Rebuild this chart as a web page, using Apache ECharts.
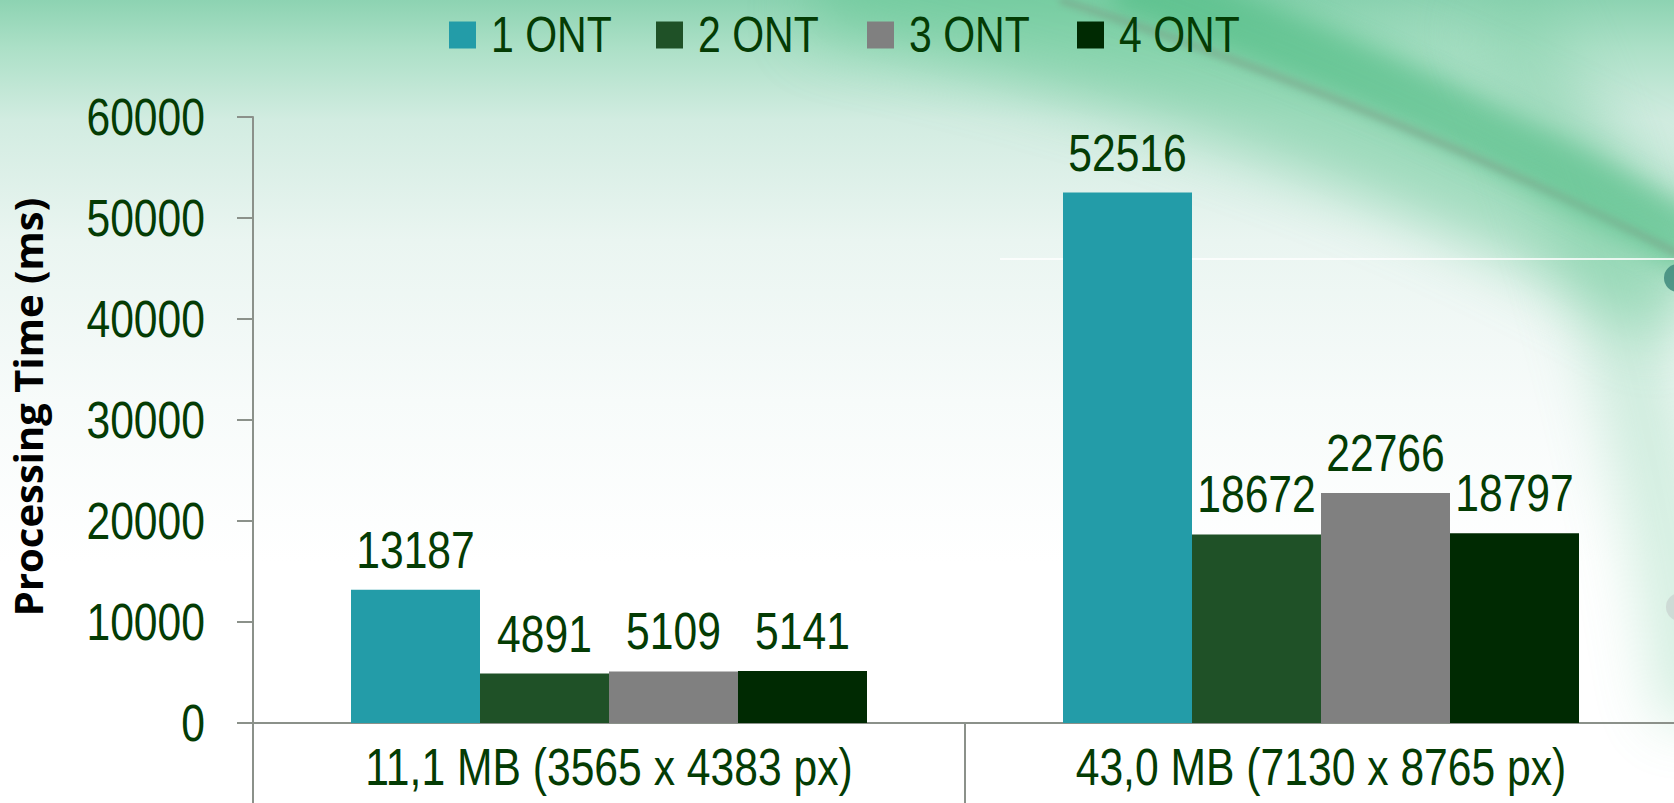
<!DOCTYPE html>
<html>
<head>
<meta charset="utf-8">
<script src="https://cdn.jsdelivr.net/npm/echarts@6/dist/echarts.min.js"></script>
<style>
  html, body { margin: 0; padding: 0; width: 1674px; height: 803px; overflow: hidden; background: #fff; }
  #bg { position: absolute; left: 0; top: 0; width: 1674px; height: 803px; }
  #chart { position: absolute; left: 0; top: 0; width: 1674px; height: 803px; }
</style>
</head>
<body>
<svg id="bg" width="1674" height="803" xmlns="http://www.w3.org/2000/svg">
  <defs>
    <linearGradient id="topg" x1="0" y1="0" x2="0" y2="1">
      <stop offset="0" stop-color="#8dd3b2"/>
      <stop offset="0.06" stop-color="#ace0c7"/>
      <stop offset="0.15" stop-color="#d2ece1"/>
      <stop offset="0.3" stop-color="#eaf5f1"/>
      <stop offset="0.5" stop-color="#f7fbfa"/>
      <stop offset="0.7" stop-color="#ffffff"/>
    </linearGradient>
    <filter id="b30" x="-50%" y="-50%" width="200%" height="200%"><feGaussianBlur stdDeviation="30"/></filter>
    <filter id="b12" x="-50%" y="-50%" width="200%" height="200%"><feGaussianBlur stdDeviation="12"/></filter>
    <filter id="b3" x="-50%" y="-50%" width="200%" height="200%"><feGaussianBlur stdDeviation="3"/></filter>
  </defs>
  <rect x="0" y="0" width="1674" height="803" fill="url(#topg)"/>
  <path d="M 820 -40 Q 1330 60 1700 280" stroke="#62c692" stroke-width="150" fill="none" opacity="0.5" filter="url(#b30)"/>
  <path d="M 1120 -20 Q 1430 90 1700 250" stroke="#4dbb82" stroke-width="60" fill="none" opacity="0.55" filter="url(#b12)"/>
  <path d="M 1060 0 Q 1400 110 1700 265" stroke="#7d9a84" stroke-width="8" fill="none" opacity="0.45" filter="url(#b3)"/>
  <path d="M 1500 0 Q 1630 250 1700 720" stroke="#6cc898" stroke-width="80" fill="none" opacity="0.3" filter="url(#b30)"/>
  <line x1="1000" y1="259" x2="1674" y2="259" stroke="#ffffff" stroke-width="2" opacity="0.8"/>
  <circle cx="1678" cy="278" r="14" fill="#3f8a7c" opacity="0.85"/>
  <circle cx="1680" cy="607" r="14" fill="#c8d2cf" opacity="0.7"/>
</svg>
<div id="chart"></div>
<script>
const categories = ['11,1 MB (3565 x 4383 px)', '43,0 MB (7130 x 8765 px)'];
const seriesNames = ['1 ONT', '2 ONT', '3 ONT', '4 ONT'];
const ont1 = [13187, 52516];
const ont2 = [4891, 18672];
const ont3 = [5109, 22766];
const ont4 = [5141, 18797];
const yTicks = [0, 10000, 20000, 30000, 40000, 50000, 60000];

const seriesData = [ont1, ont2, ont3, ont4];
const colors = ['#239ca8', '#1f5127', '#808080', '#002a02'];
const textColor = '#043c04';
const narrow = "'Liberation Sans', sans-serif";
const axisGray = '#8b918a';
const legendLeft = [444, 651, 862, 1072];

const el = document.getElementById('chart');
const chart = echarts.init(el, null, { renderer: 'svg' });
chart.setOption({
  backgroundColor: 'transparent',
  animation: false,
  legend: seriesNames.map((n, i) => ({
    data: [n],
    left: legendLeft[i],
    top: 5,
    itemWidth: 27,
    itemHeight: 27,
    icon: 'rect',
    selectedMode: false,
    textStyle: { fontFamily: narrow, fontSize: 50, color: textColor, padding: [0, 0, 0, 10] }
  })),
  grid: { left: 253, right: -3, top: 117, bottom: 80, containLabel: false, outerBoundsMode: 'none' },
  xAxis: {
    type: 'category',
    data: categories,
    axisLine: { lineStyle: { color: axisGray, width: 2 } },
    axisTick: { show: true, length: 90, lineStyle: { color: axisGray, width: 2 } },
    axisLabel: { interval: 0, hideOverlap: false, fontFamily: narrow, fontSize: 52, color: textColor, margin: 18 }
  },
  yAxis: {
    type: 'value',
    min: yTicks[0],
    max: yTicks[yTicks.length - 1],
    interval: yTicks[1] - yTicks[0],
    name: 'Processing Time (ms)',
    nameLocation: 'middle',
    nameGap: 206,
    nameTextStyle: { fontFamily: "'Open Sans', sans-serif", fontWeight: 'bold', fontSize: 40, color: '#000000', padding: [0, 0, 0, 26] },
    axisLine: { show: true, lineStyle: { color: axisGray, width: 2 } },
    axisTick: { show: true, length: 16, lineStyle: { color: axisGray, width: 2 } },
    splitLine: { show: false },
    axisLabel: { fontFamily: narrow, fontSize: 52, color: textColor, margin: 48, formatter: v => String(v) }
  },
  series: seriesNames.map((name, i) => ({
    name: name,
    type: 'bar',
    data: seriesData[i],
    barWidth: 129,
    barGap: '0%',
    silent: true,
    itemStyle: { color: colors[i] },
    label: {
      show: true,
      position: 'top',
      distance: 14,
      fontFamily: narrow,
      fontSize: 52,
      color: textColor
    }
  }))
});

// Condense the Liberation Sans texts horizontally to mimic a narrow typeface
function condense() {
  el.querySelectorAll('text').forEach(t => {
    if (t.getAttribute('data-c')) return;
    if (!/Liberation/.test(t.outerHTML)) return;
    const x = parseFloat(t.getAttribute('x') || 0);
    const y = parseFloat(t.getAttribute('y') || 0);
    const tr = t.getAttribute('transform') || '';
    t.setAttribute('transform', (tr + ' translate(' + x + ' ' + y + ') scale(0.82 1) translate(' + (-x) + ' ' + (-y) + ')').trim());
    t.setAttribute('data-c', '1');
  });
}
condense();
chart.on('finished', condense);
</script>
</body>
</html>
